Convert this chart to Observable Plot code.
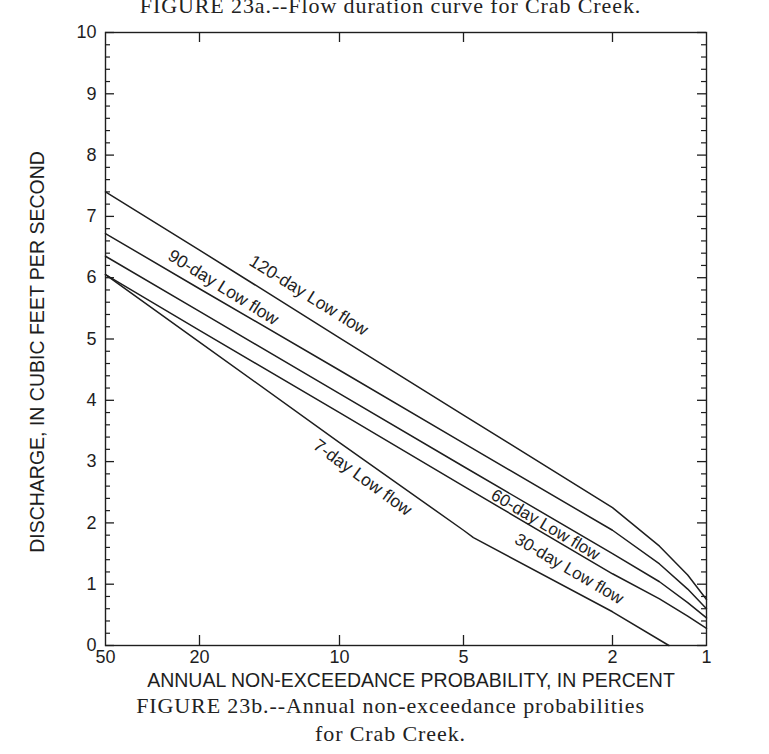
<!DOCTYPE html>
<html>
<head>
<meta charset="utf-8">
<script src="https://cdn.jsdelivr.net/npm/d3@7"></script>
<script src="https://cdn.jsdelivr.net/npm/@observablehq/plot@0.6"></script>
<style>
  html, body { margin: 0; padding: 0; background: #fff; }
  #wrap { width: 769px; height: 754px; overflow: hidden; background: #fff; }
  .serif { font-family: "Liberation Serif", "DejaVu Serif", serif; color: #222; text-align: center;
           width: 769px; white-space: nowrap; letter-spacing: 0.9px; }
  #title { font-size: 22px; line-height: 22px; height: 22px; margin-top: -5px; transform: translateX(6px); }
  #caption { font-size: 22px; line-height: 28px; margin-top: 0px; transform: translateX(6px); }
  #chart svg { display: block; }
</style>
</head>
<body>
<div id="wrap">
  <div id="title" class="serif">FIGURE 23a.--Flow duration curve for Crab Creek.</div>
  <div id="chart"></div>
  <div id="caption" class="serif">FIGURE 23b.--Annual non-exceedance probabilities<br>for Crab Creek.</div>
</div>
<script>
// ---- data ----
const probTicks = [50, 20, 10, 5, 2, 1];            // x tick values (percent)
const probInnerTicks = [20, 10, 5, 2];              // tick marks on top/bottom frame
const dischargeTicks = [0, 1, 2, 3, 4, 5, 6, 7, 8, 9, 10];

const probability = [50, 20, 10, 5, 2, 1.5, 1.2, 1];
const flow120 = [7.40, 6.45, 5.02, 3.76, 2.25, 1.62, 1.15, 0.75];
const flow90  = [6.72, 5.82, 4.49, 3.30, 1.88, 1.33, 0.92, 0.60];
const flow60  = [6.35, 5.45, 4.11, 2.92, 1.50, 1.04, 0.70, 0.45];
const flow30  = [6.05, 5.14, 3.80, 2.60, 1.17, 0.76, 0.48, 0.28];
const probability7 = [50, 20, 10, 5, 4.8, 2, 1.4];
const flow7   = [6.05, 4.95, 3.31, 1.88, 1.76, 0.55, 0];

const labelNames = ["120-day Low flow", "90-day Low flow", "60-day Low flow", "30-day Low flow", "7-day Low flow"];
const labelProb  = [12.2, 18.3, 3.35, 2.87, 9.07];
const labelFlow  = [5.71, 5.84, 1.97, 1.25, 2.74];

// ---- build table ----
const rows = [];
const addSeries = (name, ps, qs) => ps.forEach((p, i) => rows.push({series: name, p, q: qs[i]}));
addSeries("120", probability, flow120);
addSeries("90", probability, flow90);
addSeries("60", probability, flow60);
addSeries("30", probability, flow30);
addSeries("7", probability7, flow7);

const labels = labelNames.map((name, i) => ({name, p: labelProb[i], q: labelFlow[i]}));
const upperLabels = labels.slice(0, 2), lowerLabels = labels.slice(2, 4), sevenLabel = labels.slice(4);
const minorTicks = d3.range(0, 10, 0.2).map(v => +v.toFixed(1)).filter(v => !Number.isInteger(v));

const W = 769, H = 675;
const mL = 105, mR = 63, mT = 15, mB = 47;
const frameW = W - mL - mR, frameH = H - mT - mB;
const ink = "#1e1e1e";

const chart = Plot.plot({
  width: W, height: H,
  marginLeft: mL, marginRight: mR, marginTop: mT, marginBottom: mB,
  x: {type: "linear", domain: probTicks, range: [mL, 199, 339, 463, 612, W - mR]},
  y: {domain: [0, 10]},
  style: {fontFamily: "'Liberation Sans', Arial, sans-serif", fontSize: "18px", color: ink, background: "#fff"},
  marks: [
    Plot.frame({stroke: ink, strokeWidth: 1.4}),
    // inward ticks
    Plot.tickY(dischargeTicks, {y: d => d, insetRight: frameW - 9, stroke: ink, strokeWidth: 1.3}),
    Plot.tickY(minorTicks, {y: d => d, insetRight: frameW - 5, stroke: ink, strokeWidth: 1.2}),
    Plot.tickY(dischargeTicks, {y: d => d, insetLeft: frameW - 9, stroke: ink, strokeWidth: 1.3}),
    Plot.tickY(minorTicks, {y: d => d, insetLeft: frameW - 5, stroke: ink, strokeWidth: 1.2}),
    Plot.tickX(probInnerTicks, {x: d => d, insetTop: frameH - 10, stroke: ink, strokeWidth: 1.3}),
    Plot.tickX(probInnerTicks, {x: d => d, insetBottom: frameH - 10, stroke: ink, strokeWidth: 1.3}),
    // axes (labels only)
    Plot.axisX(probTicks, {anchor: "bottom", tickSize: 0, tickPadding: 5, tickFormat: d => String(d), label: null, fontSize: 18}),
    Plot.axisY(dischargeTicks, {anchor: "left", tickSize: 0, tickPadding: 9, tickFormat: d => String(d), label: null, fontSize: 18}),
    Plot.text(["ANNUAL NON-EXCEEDANCE PROBABILITY, IN PERCENT"], {frameAnchor: "bottom", dx: 5, dy: 41, lineAnchor: "bottom", textAnchor: "middle", fontSize: 19.5, fill: ink}),
    Plot.text(["DISCHARGE, IN CUBIC FEET PER SECOND"], {frameAnchor: "left", dx: -68, dy: 13, rotate: -90, textAnchor: "middle", fontSize: 19.5, fill: ink}),
    // curves
    Plot.line(rows, {x: "p", y: "q", z: "series", stroke: ink, strokeWidth: 1.5}),
    // curve labels
    Plot.text(upperLabels, {x: "p", y: "q", text: "name", rotate: 32, fontSize: 17.5, fill: ink}),
    Plot.text(lowerLabels, {x: "p", y: "q", text: "name", rotate: 30.5, fontSize: 17, fill: ink}),
    Plot.text(sevenLabel, {x: "p", y: "q", text: "name", rotate: 36, fontSize: 17.5, fill: ink})
  ]
});
document.getElementById("chart").appendChild(chart);
</script>
</body>
</html>
